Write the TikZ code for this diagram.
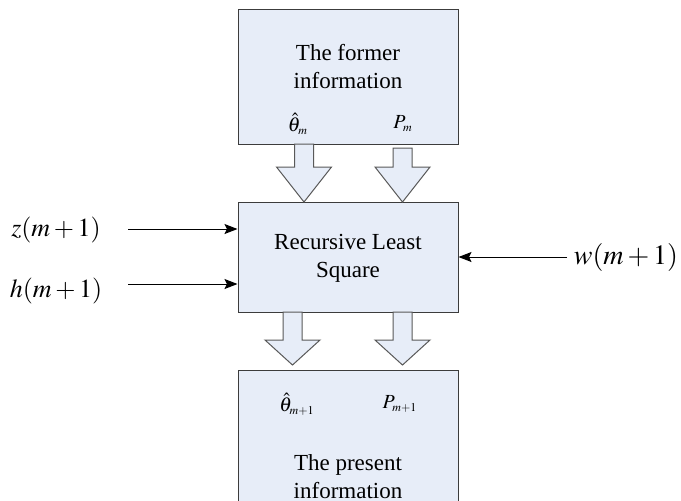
\documentclass[tikz,border=0pt]{standalone}
\usepackage{mathptmx}
\usepackage{fontspec}
\setmainfont{Liberation Serif}
\usepackage{tikz}
\usetikzlibrary{arrows.meta, positioning}
\definecolor{boxfill}{RGB}{231,237,248}
\definecolor{boxline}{RGB}{60,60,60}
\tikzstyle{block} = [rectangle, draw=boxline, fill=boxfill, line width=0.5pt, minimum width=110pt, inner sep=0pt]
\tikzstyle{fat} = [draw=boxline!85, fill=boxfill, line width=0.5pt, line join=miter]
\tikzstyle{inarrow} = [line width=0.5pt, -{Stealth[length=6.5pt, width=5pt, inset=1.2pt]}]
\tikzstyle{txt} = [align=center, inner sep=0pt, font=\fontsize{11.5}{14}\selectfont]
\tikzstyle{sym} = [inner sep=0pt, font=\fontsize{10}{12}\selectfont]
\tikzstyle{sig} = [inner sep=0pt, font=\fontsize{13}{15}\selectfont]

\begin{document}
\begin{tikzpicture}[x=0.5pt, y=-0.5pt]
\useasboundingbox (0,0) rectangle (681,500);
\clip (0,0) rectangle (681,500);

% boxes
\node (former) [block, minimum height=67.5pt] at (348,76.5) {};
\node (rls) [block, minimum height=55pt] at (348,257) {};
\node (present) [block, minimum height=85pt] at (348,455) {};

\node (formertxt) [txt] at (348,67) {The former\\information};
\node (rlstxt) [txt] at (348,258) {Recursive Least\\Square};
\node (presenttxt) [txt] at (348,477) {The present\\information};

\node (thetaold) [sym] at (298,124) {$\hat{\theta}_{\scriptscriptstyle m}$};
\node (pold) [sym] at (403,124) {$P_{\scriptscriptstyle m}$};
\node (thetanew) [sym] at (297,404) {$\hat{\theta}_{\scriptscriptstyle m+1}$};
\node (pnew) [sym] at (400,404) {$P_{\scriptscriptstyle m+1}$};

% block arrows
\foreach \xa/\ya/\yb/\yc in {304/144/167/202, 402.5/148/167/202, 292.5/312/340/365, 402.5/312/340/365}
  \draw[fat] (\xa-9.5,\ya) -- (\xa+9.5,\ya) -- (\xa+9.5,\yb) -- (\xa+27.5,\yb)
    -- (\xa,\yc) -- (\xa-27.5,\yb) -- (\xa-9.5,\yb) -- cycle;

% inputs
\node (zlab) [sig] at (56,230) {$z(m+1)$};
\node (hlab) [sig] at (56,291) {$h(m+1)$};
\node (wlab) [sig, font=\fontsize{14}{16}\selectfont] at (626,257) {$w(m+1)$};
\coordinate (zin) at (128,229);
\coordinate (hin) at (128,284);
\coordinate (win) at (567,257);
\draw[inarrow] (zin) -- (zin -| rls.west);
\draw[inarrow] (hin) -- (hin -| rls.west);
\draw[inarrow] (win) -- (win -| rls.east);
\end{tikzpicture}
\end{document}
